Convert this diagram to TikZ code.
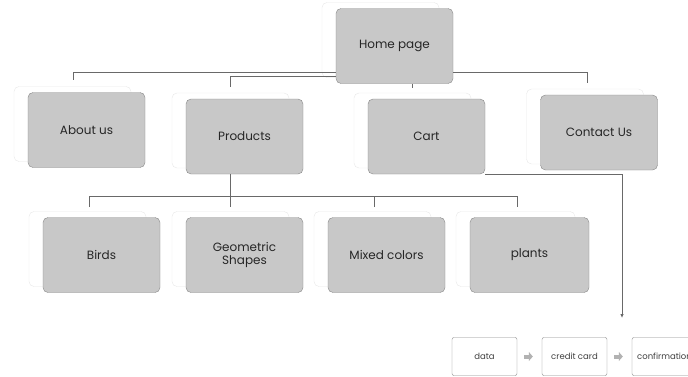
\documentclass[tikz,border=0pt]{standalone}
\usepackage{fontspec}
\setmainfont{Poppins}
\usetikzlibrary{shadows,arrows.meta}
\definecolor{cardgray}{RGB}{200,200,200}
\definecolor{edgegray}{RGB}{135,135,135}
\definecolor{linegray}{RGB}{105,105,105}
\begin{document}
\begin{tikzpicture}[x=1pt,y=-1pt]

    \tikzset{
      card/.style={
        draw=edgegray,
        fill=cardgray,
        rounded corners=5pt,
        minimum width=117pt,
        minimum height=75pt,
        align=center,
        font=\fontsize{12}{13}\selectfont,
        text=black!85,
        copy shadow={shadow xshift=-14pt, shadow yshift=6pt,
          fill=white, draw=black!9},
      },
      stepbox/.style={
        draw=edgegray,
        fill=white,
        rounded corners=2pt,
        minimum width=65pt,
        minimum height=38pt,
        font=\fontsize{8.5}{10}\selectfont,
        text=black!75,
      },
      link/.style={draw=linegray, line width=1pt},
      flow/.style={draw=black!30, line width=4pt,
        -{Triangle[length=4pt,width=9pt]},
        shorten <=7pt, shorten >=9pt},
    }
    \useasboundingbox (0,0) rectangle (688,376);
    \clip (0,0) rectangle (688,376);

    % pages
    \node[card] (home) at (394.5,46) {Home page};
    \node[card] (about) at (86.5,130) {About us};
    \node[card] (products) at (244.5,136.5) {Products};
    \node[card] (cart) at (426.5,136.5) {Cart};
    \node[card] (contact) at (599,132.5) {Contact Us};
    \node[card] (birds) at (101.5,255) {Birds};
    \node[card] (geometric) at (244.5,255) {Geometric\\Shapes};
    \node[card] (mixed) at (386.5,255) {Mixed colors};
    \node[card, minimum width=119pt] (plants) at (529.5,255) {plants};

    % checkout
    \node[stepbox] (data) at (484.5,356.5) {data};
    \node[stepbox] (credit) at (574.5,356.5) {credit card};
    \node[stepbox] (confirm) at (664.5,356.5) {confirmation};

    \coordinate (aboutdrop) at (73,80);
    \coordinate (proddrop) at (230,87);
    \coordinate (cartdrop) at (412,88);
    \coordinate (contactdrop) at (587,83);
    \coordinate (birdsdrop) at (89,207);
    \coordinate (geodrop) at (230,207);
    \coordinate (mixeddrop) at (374,207);
    \coordinate (plantsdrop) at (517,207);
    \coordinate (payin) at (622,318);

    \draw[link] (home.west |- 0,72) -| (aboutdrop);
    \draw[link] (home.west |- 0,76) -| (proddrop);
    \draw[link] (home.east |- 0,72) -| (contactdrop);
    \draw[link] (home.south -| cartdrop) -- (cartdrop);

    \draw[link] (products.south -| geodrop) -- (geodrop);
    \draw[link] (birdsdrop) -- ++(0,-11) -| (plantsdrop);
    \draw[link] (mixeddrop) -- ++(0,-11);

    \draw[link, line width=0.8pt, -{Latex[length=4pt,width=3.5pt]}] (cart.south east) -| (payin);

    \draw[flow] (data) -- (credit);
    \draw[flow] (credit) -- (confirm);

\end{tikzpicture}
\end{document}
